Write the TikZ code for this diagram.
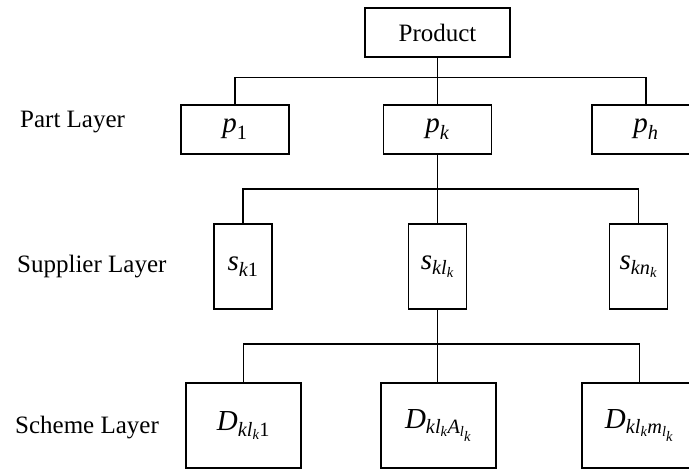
\documentclass[tikz,border=0pt]{standalone}
\usepackage{amsmath}
\usepackage{fontspec}
\setmainfont{Liberation Serif}
\newcommand\vi[1]{\text{\itshape #1}}
\newcommand\vr[1]{\text{\upshape #1}}
\begin{document}
\begin{tikzpicture}[x=1pt,y=-1pt,
  every node/.style={font=\fontsize{25}{30}\selectfont},
  box/.style={draw,line width=1.5pt,inner sep=0pt,anchor=center},
  mathbox/.style={box,font=\fontsize{29}{34}\selectfont},
  partbox/.style={mathbox,minimum width=108pt,minimum height=49pt},
  supbox/.style={mathbox,minimum width=58pt,minimum height=85pt},
  schbox/.style={mathbox,minimum width=115pt,minimum height=85pt},
  layerlabel/.style={anchor=west,inner sep=0pt},
  link/.style={line width=1.4pt}]
\useasboundingbox (0,0) rectangle (689,469);
\fill[white] (0,0) rectangle (689,469);
% top
\node[box,minimum width=145pt,minimum height=49pt] (prod) at (437.5,32.5) {Product};
% part layer
\node[partbox] (p1) at (235,129.5) {$\vi{p}_{\vr{1}}$};
\node[partbox] (pk) at (437.5,129.5) {$\vi{p}_{\vi{k}}$};
\node[partbox] (ph) at (646,129.5) {$\vi{p}_{\vi{h}}$};
% supplier layer
\node[supbox] (s1) at (243,266.5) {$\vi{s}_{\vi{k}\vr{1}}$};
\node[supbox] (sl) at (437.5,266.5) {$\vi{s}_{\vi{kl}_{\vi{k}}}$};
\node[supbox] (sn) at (638.5,266.5) {$\vi{s}_{\vi{kn}_{\vi{k}}}$};
% scheme layer
\node[schbox] (d1) at (243.5,425.5) {$\vi{D}_{\vi{kl}_{\vi{k}}\vr{1}}$};
\node[schbox] (d2) at (438.5,425.5) {$\vi{D}_{\vi{kl}_{\vi{k}}\vi{A}_{\vi{l}_{\vi{k}}}}$};
\node[schbox] (d3) at (639.5,425.5) {$\vi{D}_{\vi{kl}_{\vi{k}}\vi{m}_{\vi{l}_{\vi{k}}}}$};
% layer labels
\node[layerlabel] (lp) at (20,122) {Part Layer};
\node[layerlabel] (ls) at (17,267) {Supplier Layer};
\node[layerlabel] (lc) at (15,428) {Scheme Layer};
% connectors
\coordinate (b1) at (437.5,77.5);
\coordinate (b2) at (437.5,189);
\coordinate (b3) at (437.5,344);
\draw[link] (prod.south) -- (pk.north);
\draw[link] (p1.north) |- (b1) -| (ph.north);
\draw[link] (pk.south) -- (sl.north);
\draw[link] (s1.north) |- (b2) -| (sn.north);
\draw[link] (sl.south) -- (d2.north -| sl.south);
\draw[link] (d1.north) |- (b3) -| (d3.north);
\end{tikzpicture}
\end{document}
